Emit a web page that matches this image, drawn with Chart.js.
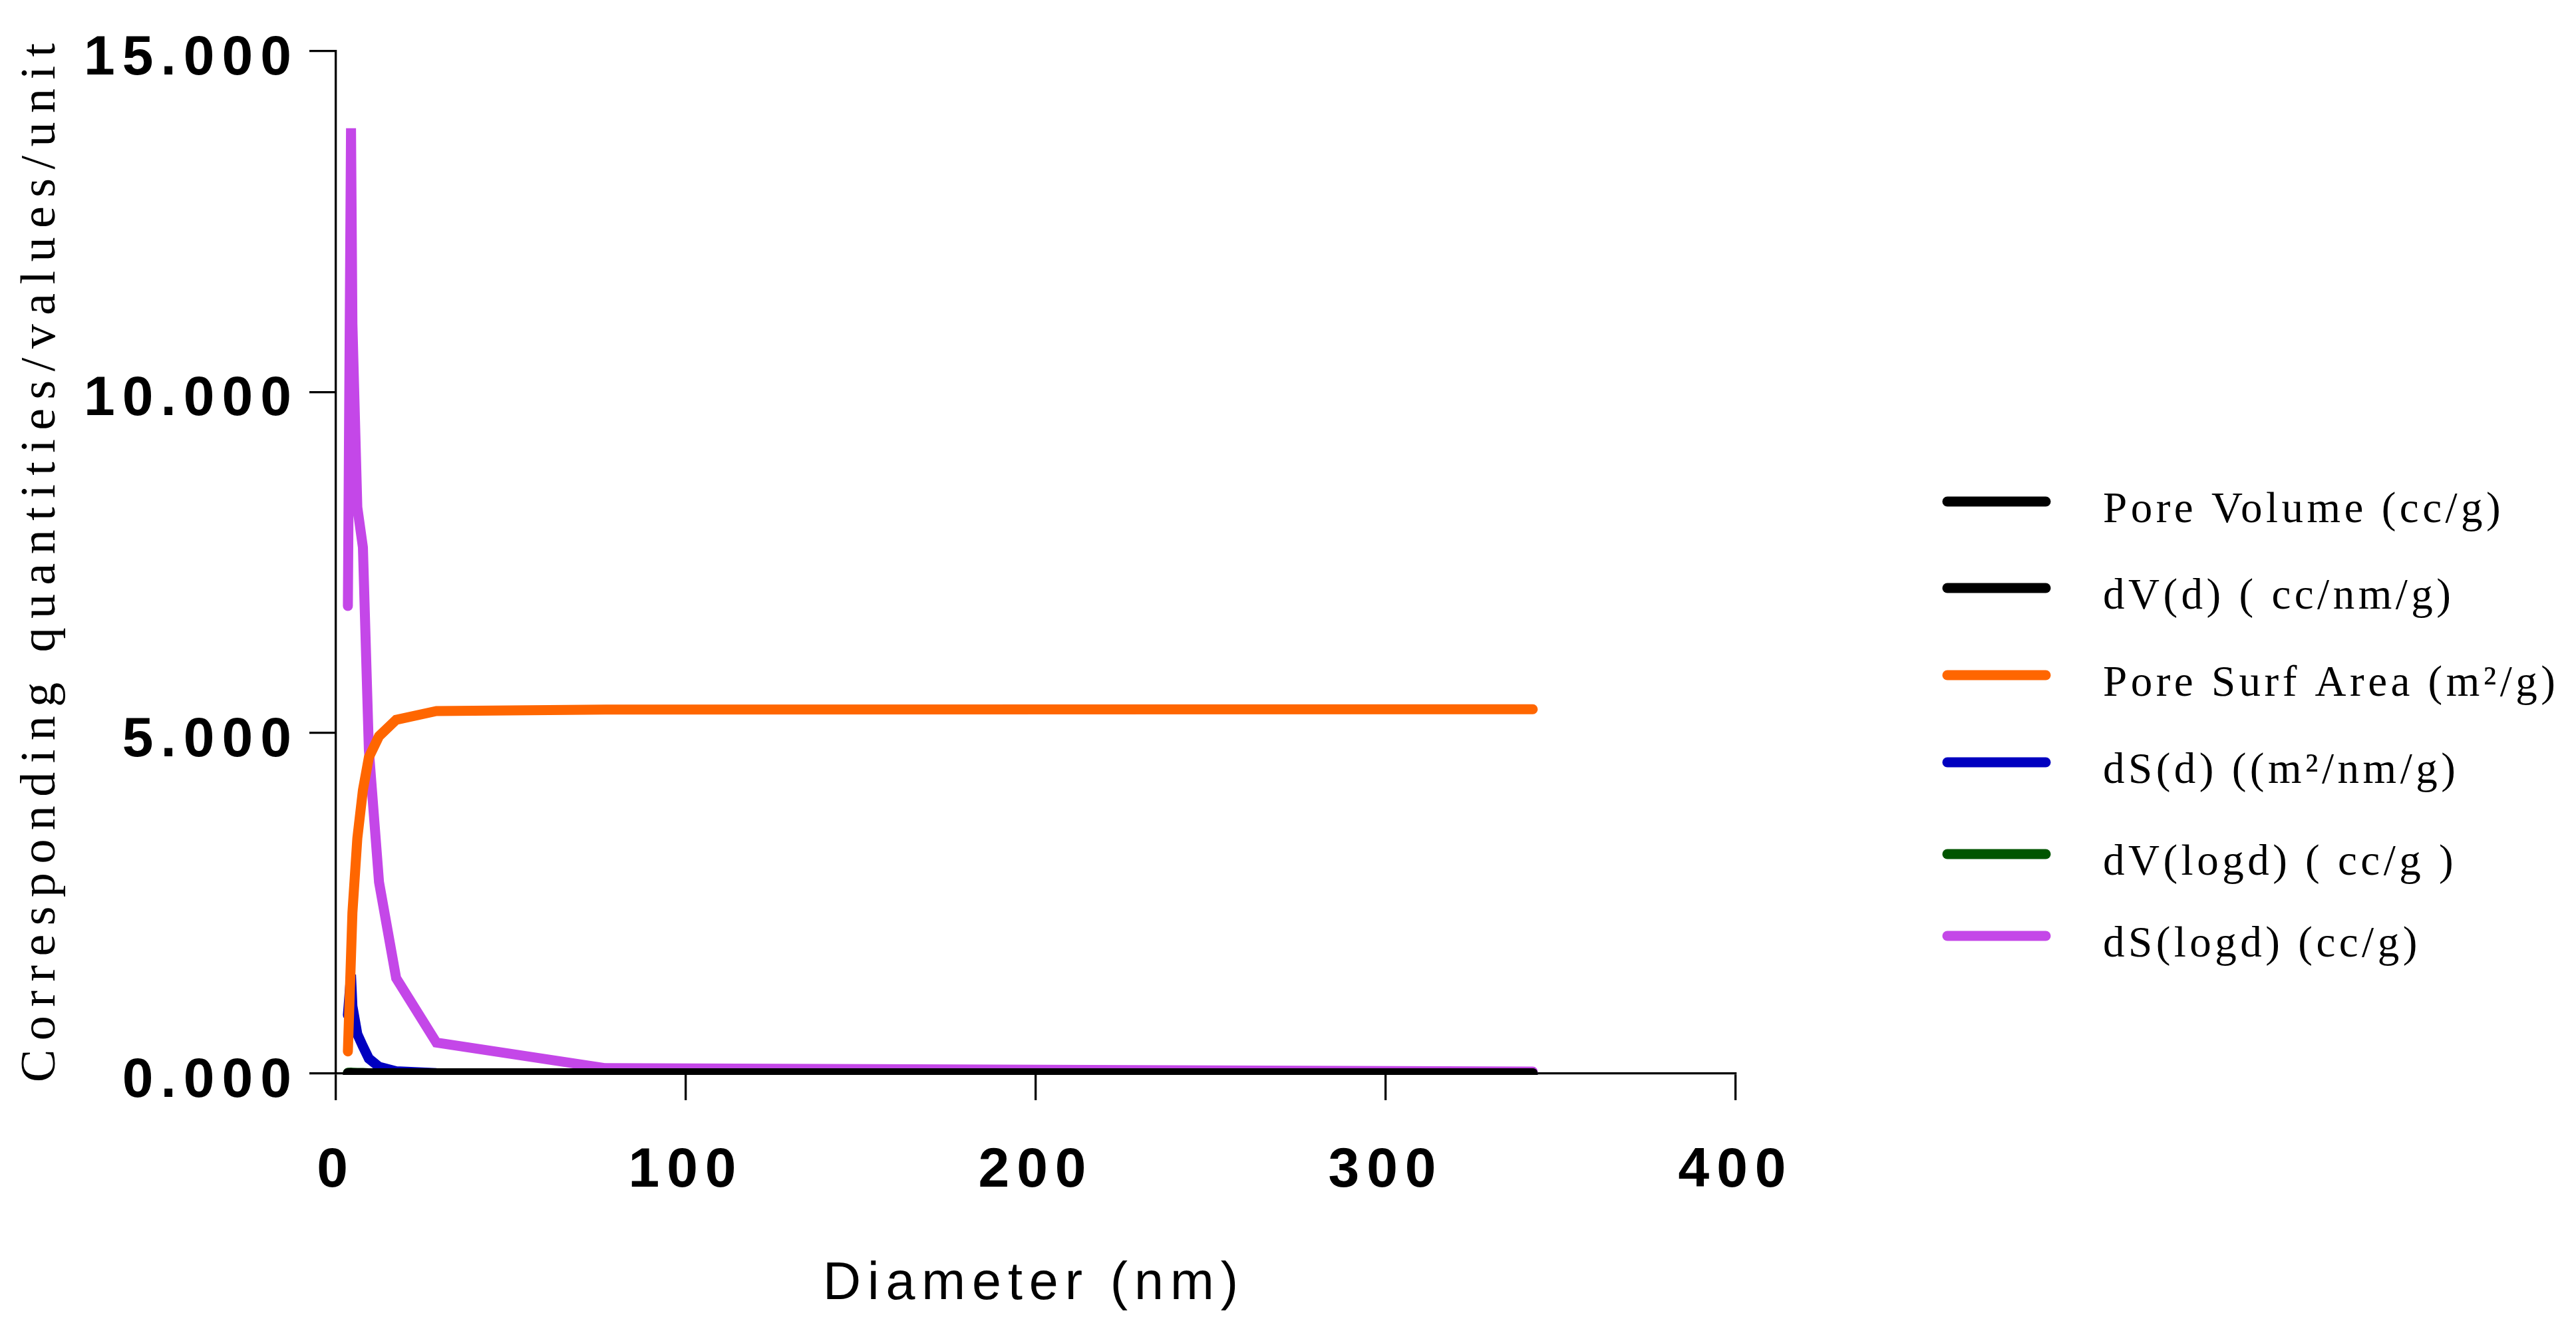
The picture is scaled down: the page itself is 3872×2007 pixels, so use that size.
<!DOCTYPE html>
<html><head><meta charset="utf-8">
<script src="https://cdn.jsdelivr.net/npm/chart.js@4.4.1/dist/chart.umd.min.js"></script>
<style>html,body{margin:0;padding:0;background:#fff;overflow:hidden;} canvas{display:block;}</style>
</head><body>
<canvas id="c" width="3872" height="2007" style="width:3872px;height:2007px"></canvas>
<script>
// ---- data ----
const diameters    = [3.4, 4.3, 4.7, 6.1, 7.7, 9.4, 12.3, 17.2, 28.7, 77.0, 342.0];
const poreVolume   = [0.001, 0.002, 0.002, 0.003, 0.004, 0.004, 0.005, 0.005, 0.006, 0.006, 0.006];
const dVd          = [0.003, 0.004, 0.003, 0.002, 0.001, 0.001, 0.0005, 0.0002, 0.0001, 0.00001, 0.000001];
const poreSurfArea = [0.325, 1.73, 2.36, 3.45, 4.16, 4.64, 4.95, 5.19, 5.32, 5.34, 5.345];
const dSd          = [0.86, 1.45, 0.99, 0.58, 0.40, 0.22, 0.10, 0.035, 0.007, 0.0006, 0.00004];
const dVlogd       = [0.012, 0.014, 0.013, 0.011, 0.009, 0.006, 0.004, 0.002, 0.001, 0.0002, 0.00002];
const dSlogd       = [6.86, 13.87, 11.0, 8.31, 7.72, 4.75, 2.81, 1.40, 0.455, 0.08, 0.03];

const seriesLabels = ['Pore Volume (cc/g)', 'dV(d) ( cc/nm/g)', 'Pore Surf Area (m\u00B2/g)',
                      'dS(d) ((m\u00B2/nm/g)', 'dV(logd) ( cc/g )', 'dS(logd) (cc/g)'];
const seriesColors = ['#000000', '#000000', '#FF6600', '#0000C0', '#005500', '#C447E8'];
const seriesValues = [poreVolume, dVd, poreSurfArea, dSd, dVlogd, dSlogd];

const xTicks = [0, 100, 200, 300, 400];
const yTicks = [0, 5, 10, 15];
const xTitle = 'Diameter (nm)';
const yTitle = 'Corresponding quantities/values/unit';

// ---- chart ----
const datasets = seriesValues.map((vals, i) => ({
  label: seriesLabels[i],
  data: diameters.map((d, j) => ({ x: d, y: vals[j] })),
  borderColor: seriesColors[i],
  backgroundColor: seriesColors[i],
  borderWidth: 15,
  borderCapStyle: 'round',
  borderJoinStyle: 'miter',
  pointRadius: 0,
  pointHoverRadius: 0,
  tension: 0,
  fill: false,
  clip: { left: 20, top: 20, right: 20, bottom: 2 }
}));

const textPlugin = {
  id: 'textPlugin',
  beforeDraw(chart) { chart.ctx.letterSpacing = '11px'; },
  beforeDatasetsDraw(chart) { chart.ctx.letterSpacing = '0px'; },
  afterDraw(chart) {
    const ctx = chart.ctx;
    const spacingFor = (text, width) => {
      ctx.letterSpacing = '0px';
      const w = ctx.measureText(text).width;
      return (width - w) / (text.length - 1);
    };
    // x axis title
    ctx.save();
    ctx.fillStyle = '#000';
    ctx.font = '79px "Liberation Sans"';
    ctx.textAlign = 'left';
    ctx.textBaseline = 'alphabetic';
    let ls = spacingFor(xTitle, 624);
    ctx.letterSpacing = ls + 'px';
    ctx.fillText(xTitle, 1237, 1953);
    ctx.restore();
    // y axis title
    ctx.save();
    ctx.fillStyle = '#000';
    ctx.font = '74px "Liberation Serif"';
    ctx.textAlign = 'left';
    ctx.textBaseline = 'alphabetic';
    ls = spacingFor(yTitle, 1562);
    ctx.translate(82, 1627);
    ctx.rotate(-Math.PI / 2);
    ctx.letterSpacing = ls + 'px';
    ctx.fillText(yTitle, 0, 0);
    ctx.restore();
    // legend
    const rows = [754, 884, 1015, 1146, 1284, 1407];
    chart.data.datasets.forEach((ds, i) => {
      const y = rows[i];
      ctx.save();
      ctx.strokeStyle = ds.borderColor;
      ctx.lineWidth = 15;
      ctx.lineCap = 'round';
      ctx.beginPath();
      ctx.moveTo(2927, y);
      ctx.lineTo(3075, y);
      ctx.stroke();
      ctx.fillStyle = '#000';
      ctx.font = '65px "Liberation Serif"';
      ctx.textAlign = 'left';
      ctx.textBaseline = 'alphabetic';
      ctx.letterSpacing = '5.5px';
      ctx.fillText(ds.label, 3161, y + 31);
      ctx.restore();
    });
    ctx.letterSpacing = '0px';
  }
};

new Chart(document.getElementById('c'), {
  type: 'line',
  data: { datasets },
  plugins: [textPlugin],
  options: {
    responsive: false,
    animation: false,
    devicePixelRatio: 1,
    events: [],
    layout: { padding: { left: 0, top: 77, right: 1263, bottom: 0 } },
    plugins: { legend: { display: false }, tooltip: { enabled: false }, title: { display: false } },
    scales: {
      x: {
        type: 'linear',
        min: 0, max: 400,
        afterBuildTicks: (s) => { s.ticks = xTicks.map(v => ({ value: v })); },
        afterFit: (s) => { s.height = 2007 - 1614; },
        grid: { display: true, drawOnChartArea: false, drawTicks: true, tickLength: 40, lineWidth: 3.3, color: '#000' },
        border: { display: true, width: 3.3, color: '#000' },
        ticks: {
          padding: 56,
          color: '#000',
          font: { family: '"Liberation Sans"', size: 84, weight: 'bold' },
          maxRotation: 0, autoSkip: false,
          callback: (v) => String(v)
        },
        title: { display: false }
      },
      y: {
        type: 'linear',
        min: 0, max: 15,
        afterBuildTicks: (s) => { s.ticks = yTicks.map(v => ({ value: v })); },
        afterFit: (s) => { s.width = 505; },
        grid: { display: true, drawOnChartArea: false, drawTicks: true, tickLength: 40, lineWidth: 3.3, color: '#000' },
        border: { display: true, width: 3.3, color: '#000' },
        ticks: {
          padding: 16,
          labelOffset: 12,
          color: '#000',
          font: { family: '"Liberation Sans"', size: 84, weight: 'bold' },
          autoSkip: false,
          callback: (v) => Number(v).toFixed(3)
        },
        title: { display: false }
      }
    }
  }
});
</script>
</body></html>
